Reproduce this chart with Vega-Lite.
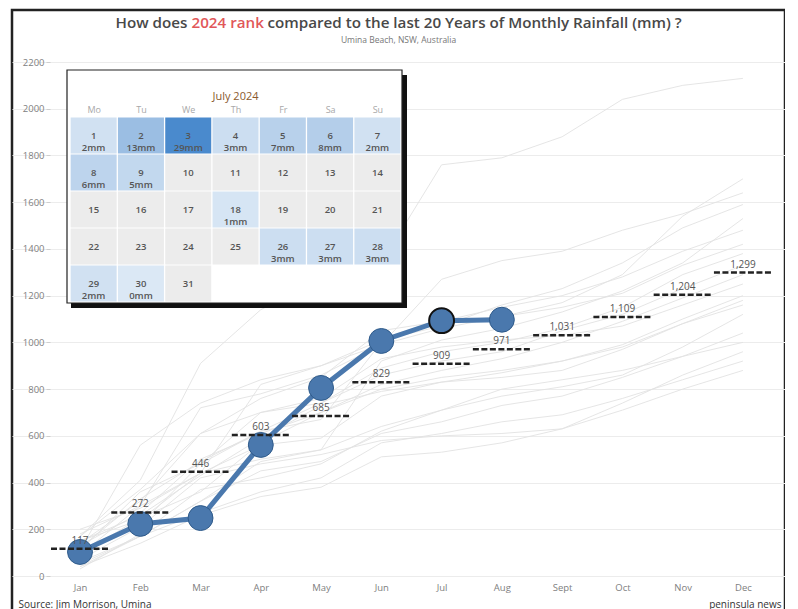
{
  "$schema": "https://vega.github.io/schema/vega-lite/v6.json",
  "width": 773,
  "height": 605,
  "autosize": {"type": "none"},
  "padding": {"left": 12, "top": 10, "right": 0, "bottom": 0},
  "background": "white",
  "config": {
    "font": "Open Sans",
    "view": {"stroke": "#222", "strokeWidth": 2.5, "fill": "white"},
    "axis": {"labelFont": "Open Sans", "titleFont": "Open Sans"}
  },
  "title": {
    "text": "Umina Beach, NSW, Australia",
    "anchor": "middle",
    "fontSize": 8.5,
    "fontWeight": "normal",
    "color": "#777",
    "offset": -34
  },
  "datasets": {
    "years": [
      {"year":2004,"month":1,"mm":60},{"year":2004,"month":2,"mm":170},{"year":2004,"month":3,"mm":320},{"year":2004,"month":4,"mm":450},{"year":2004,"month":5,"mm":490},{"year":2004,"month":6,"mm":610},{"year":2004,"month":7,"mm":660},{"year":2004,"month":8,"mm":730},{"year":2004,"month":9,"mm":770},{"year":2004,"month":10,"mm":850},{"year":2004,"month":11,"mm":940},{"year":2004,"month":12,"mm":1040},
      {"year":2005,"month":1,"mm":150},{"year":2005,"month":2,"mm":240},{"year":2005,"month":3,"mm":440},{"year":2005,"month":4,"mm":560},{"year":2005,"month":5,"mm":590},{"year":2005,"month":6,"mm":770},{"year":2005,"month":7,"mm":830},{"year":2005,"month":8,"mm":870},{"year":2005,"month":9,"mm":920},{"year":2005,"month":10,"mm":990},{"year":2005,"month":11,"mm":1100},{"year":2005,"month":12,"mm":1200},
      {"year":2006,"month":1,"mm":40},{"year":2006,"month":2,"mm":170},{"year":2006,"month":3,"mm":270},{"year":2006,"month":4,"mm":360},{"year":2006,"month":5,"mm":420},{"year":2006,"month":6,"mm":570},{"year":2006,"month":7,"mm":610},{"year":2006,"month":8,"mm":660},{"year":2006,"month":9,"mm":690},{"year":2006,"month":10,"mm":760},{"year":2006,"month":11,"mm":840},{"year":2006,"month":12,"mm":920},
      {"year":2007,"month":1,"mm":120},{"year":2007,"month":2,"mm":330},{"year":2007,"month":3,"mm":490},{"year":2007,"month":4,"mm":620},{"year":2007,"month":5,"mm":670},{"year":2007,"month":6,"mm":1000},{"year":2007,"month":7,"mm":1090},{"year":2007,"month":8,"mm":1150},{"year":2007,"month":9,"mm":1200},{"year":2007,"month":10,"mm":1280},{"year":2007,"month":11,"mm":1390},{"year":2007,"month":12,"mm":1480},
      {"year":2008,"month":1,"mm":110},{"year":2008,"month":2,"mm":360},{"year":2008,"month":3,"mm":480},{"year":2008,"month":4,"mm":700},{"year":2008,"month":5,"mm":740},{"year":2008,"month":6,"mm":860},{"year":2008,"month":7,"mm":920},{"year":2008,"month":8,"mm":960},{"year":2008,"month":9,"mm":1050},{"year":2008,"month":10,"mm":1120},{"year":2008,"month":11,"mm":1230},{"year":2008,"month":12,"mm":1330},
      {"year":2009,"month":1,"mm":90},{"year":2009,"month":2,"mm":250},{"year":2009,"month":3,"mm":360},{"year":2009,"month":4,"mm":570},{"year":2009,"month":5,"mm":700},{"year":2009,"month":6,"mm":800},{"year":2009,"month":7,"mm":850},{"year":2009,"month":8,"mm":880},{"year":2009,"month":9,"mm":920},{"year":2009,"month":10,"mm":980},{"year":2009,"month":11,"mm":1080},{"year":2009,"month":12,"mm":1160},
      {"year":2010,"month":1,"mm":130},{"year":2010,"month":2,"mm":270},{"year":2010,"month":3,"mm":500},{"year":2010,"month":4,"mm":610},{"year":2010,"month":5,"mm":700},{"year":2010,"month":6,"mm":820},{"year":2010,"month":7,"mm":880},{"year":2010,"month":8,"mm":930},{"year":2010,"month":9,"mm":1000},{"year":2010,"month":10,"mm":1090},{"year":2010,"month":11,"mm":1190},{"year":2010,"month":12,"mm":1290},
      {"year":2011,"month":1,"mm":100},{"year":2011,"month":2,"mm":220},{"year":2011,"month":3,"mm":480},{"year":2011,"month":4,"mm":620},{"year":2011,"month":5,"mm":740},{"year":2011,"month":6,"mm":890},{"year":2011,"month":7,"mm":960},{"year":2011,"month":8,"mm":1000},{"year":2011,"month":9,"mm":1060},{"year":2011,"month":10,"mm":1150},{"year":2011,"month":11,"mm":1290},{"year":2011,"month":12,"mm":1380},
      {"year":2012,"month":1,"mm":170},{"year":2012,"month":2,"mm":370},{"year":2012,"month":3,"mm":610},{"year":2012,"month":4,"mm":700},{"year":2012,"month":5,"mm":760},{"year":2012,"month":6,"mm":930},{"year":2012,"month":7,"mm":980},{"year":2012,"month":8,"mm":1010},{"year":2012,"month":9,"mm":1030},{"year":2012,"month":10,"mm":1070},{"year":2012,"month":11,"mm":1160},{"year":2012,"month":12,"mm":1250},
      {"year":2013,"month":1,"mm":140},{"year":2013,"month":2,"mm":320},{"year":2013,"month":3,"mm":610},{"year":2013,"month":4,"mm":760},{"year":2013,"month":5,"mm":850},{"year":2013,"month":6,"mm":1050},{"year":2013,"month":7,"mm":1090},{"year":2013,"month":8,"mm":1110},{"year":2013,"month":9,"mm":1150},{"year":2013,"month":10,"mm":1210},{"year":2013,"month":11,"mm":1330},{"year":2013,"month":12,"mm":1420},
      {"year":2014,"month":1,"mm":50},{"year":2014,"month":2,"mm":170},{"year":2014,"month":3,"mm":320},{"year":2014,"month":4,"mm":490},{"year":2014,"month":5,"mm":540},{"year":2014,"month":6,"mm":640},{"year":2014,"month":7,"mm":710},{"year":2014,"month":8,"mm":800},{"year":2014,"month":9,"mm":840},{"year":2014,"month":10,"mm":880},{"year":2014,"month":11,"mm":940},{"year":2014,"month":12,"mm":1000},
      {"year":2015,"month":1,"mm":180},{"year":2015,"month":2,"mm":300},{"year":2015,"month":3,"mm":440},{"year":2015,"month":4,"mm":820},{"year":2015,"month":5,"mm":900},{"year":2015,"month":6,"mm":1010},{"year":2015,"month":7,"mm":1070},{"year":2015,"month":8,"mm":1160},{"year":2015,"month":9,"mm":1230},{"year":2015,"month":10,"mm":1340},{"year":2015,"month":11,"mm":1490},{"year":2015,"month":12,"mm":1590},
      {"year":2016,"month":1,"mm":200},{"year":2016,"month":2,"mm":290},{"year":2016,"month":3,"mm":440},{"year":2016,"month":4,"mm":500},{"year":2016,"month":5,"mm":540},{"year":2016,"month":6,"mm":920},{"year":2016,"month":7,"mm":1010},{"year":2016,"month":8,"mm":1060},{"year":2016,"month":9,"mm":1130},{"year":2016,"month":10,"mm":1220},{"year":2016,"month":11,"mm":1340},{"year":2016,"month":12,"mm":1530},
      {"year":2017,"month":1,"mm":70},{"year":2017,"month":2,"mm":210},{"year":2017,"month":3,"mm":420},{"year":2017,"month":4,"mm":480},{"year":2017,"month":5,"mm":520},{"year":2017,"month":6,"mm":580},{"year":2017,"month":7,"mm":600},{"year":2017,"month":8,"mm":610},{"year":2017,"month":9,"mm":630},{"year":2017,"month":10,"mm":710},{"year":2017,"month":11,"mm":800},{"year":2017,"month":12,"mm":880},
      {"year":2018,"month":1,"mm":40},{"year":2018,"month":2,"mm":140},{"year":2018,"month":3,"mm":260},{"year":2018,"month":4,"mm":340},{"year":2018,"month":5,"mm":380},{"year":2018,"month":6,"mm":510},{"year":2018,"month":7,"mm":530},{"year":2018,"month":8,"mm":570},{"year":2018,"month":9,"mm":630},{"year":2018,"month":10,"mm":740},{"year":2018,"month":11,"mm":860},{"year":2018,"month":12,"mm":960},
      {"year":2019,"month":1,"mm":30},{"year":2019,"month":2,"mm":180},{"year":2019,"month":3,"mm":370},{"year":2019,"month":4,"mm":420},{"year":2019,"month":5,"mm":480},{"year":2019,"month":6,"mm":620},{"year":2019,"month":7,"mm":710},{"year":2019,"month":8,"mm":770},{"year":2019,"month":9,"mm":810},{"year":2019,"month":10,"mm":860},{"year":2019,"month":11,"mm":980},{"year":2019,"month":12,"mm":1120},
      {"year":2020,"month":1,"mm":110},{"year":2020,"month":2,"mm":560},{"year":2020,"month":3,"mm":740},{"year":2020,"month":4,"mm":840},{"year":2020,"month":5,"mm":900},{"year":2020,"month":6,"mm":990},{"year":2020,"month":7,"mm":1270},{"year":2020,"month":8,"mm":1350},{"year":2020,"month":9,"mm":1390},{"year":2020,"month":10,"mm":1480},{"year":2020,"month":11,"mm":1550},{"year":2020,"month":12,"mm":1640},
      {"year":2021,"month":1,"mm":90},{"year":2021,"month":2,"mm":300},{"year":2021,"month":3,"mm":720},{"year":2021,"month":4,"mm":780},{"year":2021,"month":5,"mm":860},{"year":2021,"month":6,"mm":990},{"year":2021,"month":7,"mm":1060},{"year":2021,"month":8,"mm":1110},{"year":2021,"month":9,"mm":1170},{"year":2021,"month":10,"mm":1290},{"year":2021,"month":11,"mm":1540},{"year":2021,"month":12,"mm":1700},
      {"year":2022,"month":1,"mm":170},{"year":2022,"month":2,"mm":410},{"year":2022,"month":3,"mm":910},{"year":2022,"month":4,"mm":1140},{"year":2022,"month":5,"mm":1270},{"year":2022,"month":6,"mm":1340},{"year":2022,"month":7,"mm":1760},{"year":2022,"month":8,"mm":1790},{"year":2022,"month":9,"mm":1880},{"year":2022,"month":10,"mm":2040},{"year":2022,"month":11,"mm":2100},{"year":2022,"month":12,"mm":2130},
      {"year":2023,"month":1,"mm":150},{"year":2023,"month":2,"mm":260},{"year":2023,"month":3,"mm":430},{"year":2023,"month":4,"mm":590},{"year":2023,"month":5,"mm":730},{"year":2023,"month":6,"mm":790},{"year":2023,"month":7,"mm":830},{"year":2023,"month":8,"mm":850},{"year":2023,"month":9,"mm":880},{"year":2023,"month":10,"mm":970},{"year":2023,"month":11,"mm":1080},{"year":2023,"month":12,"mm":1180}
    ],
    "y2024": [
      {"month":1,"mm":103},{"month":2,"mm":223},{"month":3,"mm":248},{"month":4,"mm":561},
      {"month":5,"mm":805},{"month":6,"mm":1006},{"month":7,"mm":1093},{"month":8,"mm":1097}
    ],
    "avg": [
      {"month":1,"avg":117},{"month":2,"avg":272},{"month":3,"avg":446},{"month":4,"avg":603},
      {"month":5,"avg":685},{"month":6,"avg":829},{"month":7,"avg":909},{"month":8,"avg":971},
      {"month":9,"avg":1031},{"month":10,"avg":1109},{"month":11,"avg":1204},{"month":12,"avg":1299}
    ],
    "july": [
      {"day":1,"weekday":0,"week":0,"mm":2,"label":"1\n2mm"},
      {"day":2,"weekday":1,"week":0,"mm":13,"label":"2\n13mm"},
      {"day":3,"weekday":2,"week":0,"mm":29,"label":"3\n29mm"},
      {"day":4,"weekday":3,"week":0,"mm":3,"label":"4\n3mm"},
      {"day":5,"weekday":4,"week":0,"mm":7,"label":"5\n7mm"},
      {"day":6,"weekday":5,"week":0,"mm":8,"label":"6\n8mm"},
      {"day":7,"weekday":6,"week":0,"mm":2,"label":"7\n2mm"},
      {"day":8,"weekday":0,"week":1,"mm":6,"label":"8\n6mm"},
      {"day":9,"weekday":1,"week":1,"mm":5,"label":"9\n5mm"},
      {"day":10,"weekday":2,"week":1,"mm":null,"label":"10"},
      {"day":11,"weekday":3,"week":1,"mm":null,"label":"11"},
      {"day":12,"weekday":4,"week":1,"mm":null,"label":"12"},
      {"day":13,"weekday":5,"week":1,"mm":null,"label":"13"},
      {"day":14,"weekday":6,"week":1,"mm":null,"label":"14"},
      {"day":15,"weekday":0,"week":2,"mm":null,"label":"15"},
      {"day":16,"weekday":1,"week":2,"mm":null,"label":"16"},
      {"day":17,"weekday":2,"week":2,"mm":null,"label":"17"},
      {"day":18,"weekday":3,"week":2,"mm":1,"label":"18\n1mm"},
      {"day":19,"weekday":4,"week":2,"mm":null,"label":"19"},
      {"day":20,"weekday":5,"week":2,"mm":null,"label":"20"},
      {"day":21,"weekday":6,"week":2,"mm":null,"label":"21"},
      {"day":22,"weekday":0,"week":3,"mm":null,"label":"22"},
      {"day":23,"weekday":1,"week":3,"mm":null,"label":"23"},
      {"day":24,"weekday":2,"week":3,"mm":null,"label":"24"},
      {"day":25,"weekday":3,"week":3,"mm":null,"label":"25"},
      {"day":26,"weekday":4,"week":3,"mm":3,"label":"26\n3mm"},
      {"day":27,"weekday":5,"week":3,"mm":3,"label":"27\n3mm"},
      {"day":28,"weekday":6,"week":3,"mm":3,"label":"28\n3mm"},
      {"day":29,"weekday":0,"week":4,"mm":2,"label":"29\n2mm"},
      {"day":30,"weekday":1,"week":4,"mm":0,"label":"30\n0mm"},
      {"day":31,"weekday":2,"week":4,"mm":null,"label":"31"}
    ]
  },
  "resolve": {
    "scale": {"x": "independent", "y": "independent", "color": "independent"},
    "axis": {"x": "independent", "y": "independent"}
  },
  "layer": [
    {
      "data": {"name": "years"},
      "mark": {"type": "line", "stroke": "#e2e2e2", "strokeWidth": 1, "opacity": 0.9},
      "encoding": {
        "x": {"field": "month", "type": "quantitative",
              "scale": {"domain": [-0.1283, 12.698], "nice": false, "zero": false},
              "axis": {"orient": "bottom", "offset": -39, "values": [1,2,3,4,5,6,7,8,9,10,11,12],
                       "labelExpr": "['Jan','Feb','Mar','Apr','May','Jun','Jul','Aug','Sept','Oct','Nov','Dec'][datum.value-1]",
                       "ticks": false, "tickSize": 0, "domain": false, "grid": false,
                       "labelColor": "#808080", "labelFontSize": 9.5, "labelPadding": 6,
                       "title": "Source: Jim Morrison, Umina", "titleX": 6, "titleY": 31,
                       "titleAlign": "left", "titleAnchor": "start", "titleBaseline": "alphabetic",
                       "titleFontSize": 10, "titleFontWeight": "normal", "titleColor": "#333"}},
        "y": {"field": "mm", "type": "quantitative",
              "scale": {"domain": [-166.9, 2422.6], "nice": false, "zero": false},
              "axis": {"orient": "left", "offset": -38, "format": "d",
                       "values": [0,200,400,600,800,1000,1200,1400,1600,1800,2000,2200],
                       "grid": true, "gridColor": "#ececec", "domain": false,
                       "tickColor": "#cfcfcf", "tickSize": 4, "labelColor": "#808080",
                       "labelFontSize": 9.5, "labelPadding": 2,
                       "title": "peninsula news", "titleAngle": 0, "titleX": 731, "titleY": 597,
                       "titleAlign": "right", "titleBaseline": "alphabetic",
                       "titleFontSize": 10, "titleFontWeight": "normal", "titleColor": "#333"}},
        "detail": {"field": "year", "type": "nominal"}
      }
    },
    {
      "data": {"name": "y2024"},
      "mark": {"type": "line", "stroke": "#4a78ad", "strokeWidth": 5},
      "encoding": {
        "x": {"field": "month", "type": "quantitative",
              "scale": {"domain": [-0.1283, 12.698], "nice": false, "zero": false},
              "axis": {"orient": "top", "labels": false, "ticks": false, "domain": false, "grid": false,
                       "title": "How does", "titleX": 175, "titleY": 17, "titleAlign": "right",
                       "titleBaseline": "alphabetic", "titleFontSize": 15.2, "titleFontWeight": 600,
                       "titleColor": "#484848"}},
        "y": {"field": "mm", "type": "quantitative",
              "scale": {"domain": [-166.9, 2422.6], "nice": false, "zero": false},
              "axis": {"orient": "right", "labels": false, "ticks": false, "domain": false, "grid": false,
                       "title": "compared to the last 20 Years of Monthly Rainfall (mm) ?",
                       "titleAngle": 0, "titleX": -518, "titleY": 17, "titleAlign": "left",
                       "titleBaseline": "alphabetic", "titleFontSize": 15.2, "titleFontWeight": 600,
                       "titleColor": "#484848"}}
      }
    },
    {
      "data": {"name": "y2024"},
      "mark": {"type": "point", "shape": "circle", "filled": true, "size": 620, "fill": "#4a78ad", "opacity": 1},
      "encoding": {
        "x": {"field": "month", "type": "quantitative",
              "scale": {"domain": [-0.1283, 12.698], "nice": false, "zero": false}, "axis": null},
        "y": {"field": "mm", "type": "quantitative",
              "scale": {"domain": [-166.9, 2422.6], "nice": false, "zero": false}, "axis": null},
        "stroke": {"condition": {"test": "datum.month == 7", "value": "#111111"}, "value": "#2e5a8a"},
        "strokeWidth": {"condition": {"test": "datum.month == 7", "value": 2}, "value": 1}
      }
    },
    {
      "data": {"name": "avg"},
      "mark": {"type": "rule", "color": "#222", "strokeWidth": 2.5, "strokeDash": [6, 2.5], "xOffset": -29, "x2Offset": 29},
      "encoding": {
        "x": {"field": "month", "type": "quantitative",
              "scale": {"domain": [-0.1283, 12.698], "nice": false, "zero": false}, "axis": null},
        "x2": {"field": "month"},
        "y": {"field": "avg", "type": "quantitative",
              "scale": {"domain": [-166.9, 2422.6], "nice": false, "zero": false}, "axis": null}
      }
    },
    {
      "data": {"name": "avg"},
      "mark": {"type": "text", "baseline": "bottom", "dy": -3, "fontSize": 10, "color": "#555"},
      "encoding": {
        "x": {"field": "month", "type": "quantitative",
              "scale": {"domain": [-0.1283, 12.698], "nice": false, "zero": false}, "axis": null},
        "y": {"field": "avg", "type": "quantitative",
              "scale": {"domain": [-166.9, 2422.6], "nice": false, "zero": false}, "axis": null},
        "text": {"field": "avg", "format": ",d"}
      }
    },
    {
      "data": {"values": [{}]},
      "mark": {"type": "rect", "fill": "#111"},
      "encoding": {
        "x": {"datum": -0.479, "type": "quantitative",
              "scale": {"domain": [-1.7266, 14.619], "nice": false, "zero": false}, "axis": null},
        "x2": {"datum": 6.626},
        "y": {"datum": -1.635, "type": "quantitative",
              "scale": {"domain": [-3.392, 12.959], "nice": false, "zero": false, "reverse": true}, "axis": null},
        "y2": {"datum": 4.662}
      }
    },
    {
      "data": {"values": [{}]},
      "mark": {"type": "rect", "fill": "white", "stroke": "#222", "strokeWidth": 1.2},
      "encoding": {
        "x": {"datum": -0.5636, "type": "quantitative",
              "scale": {"domain": [-1.7266, 14.619], "nice": false, "zero": false}, "axis": null},
        "x2": {"datum": 6.5204},
        "y": {"datum": -1.770, "type": "quantitative",
              "scale": {"domain": [-3.392, 12.959], "nice": false, "zero": false, "reverse": true}, "axis": null},
        "y2": {"datum": 4.527}
      }
    },
    {
      "data": {"name": "july"},
      "mark": {"type": "rect", "width": 46, "height": 36, "invalid": "show"},
      "encoding": {
        "x": {"field": "weekday", "type": "quantitative",
              "scale": {"domain": [-1.7266, 14.619], "nice": false, "zero": false},
              "axis": {"orient": "top", "offset": -104, "values": [0,1,2,3,4,5,6], "zindex": 2,
                       "labelExpr": "['Mo','Tu','We','Th','Fr','Sa','Su'][datum.value]",
                       "ticks": false, "tickSize": 0, "domain": false, "grid": false,
                       "labelPadding": 0, "labelColor": "#a8a8a8", "labelFontSize": 9,
                       "title": "July 2024", "titleX": 223, "titleY": -15, "titleAlign": "center",
                       "titleBaseline": "alphabetic", "titleFontSize": 11, "titleFontWeight": "normal",
                       "titleColor": "#8a5a2e"}},
        "y": {"field": "week", "type": "quantitative",
              "scale": {"domain": [-3.392, 12.959], "nice": false, "zero": false, "reverse": true},
              "axis": {"orient": "right", "labels": false, "ticks": false, "domain": false, "grid": false,
                       "zindex": 2,
                       "title": "2024 rank", "titleAngle": 0, "titleX": -594, "titleY": 17,
                       "titleAlign": "left", "titleBaseline": "alphabetic", "titleFontSize": 15.2,
                       "titleFontWeight": 600, "titleColor": "#e15759"}},
        "color": {
          "condition": {"test": "datum.mm == null", "value": "#ececec"},
          "field": "mm", "type": "quantitative",
          "scale": {"domain": [0, 29], "range": ["#dbe8f5", "#4a8acd"]},
          "legend": null
        }
      }
    },
    {
      "data": {"name": "july"},
      "mark": {"type": "text", "lineBreak": "\n", "lineHeight": 12, "fontSize": 9.5, "fontWeight": 600, "color": "#555", "baseline": "middle"},
      "encoding": {
        "x": {"field": "weekday", "type": "quantitative",
              "scale": {"domain": [-1.7266, 14.619], "nice": false, "zero": false}, "axis": null},
        "y": {"field": "week", "type": "quantitative",
              "scale": {"domain": [-3.392, 12.959], "nice": false, "zero": false, "reverse": true}, "axis": null},
        "text": {"field": "label"}
      }
    }
  ]
}
